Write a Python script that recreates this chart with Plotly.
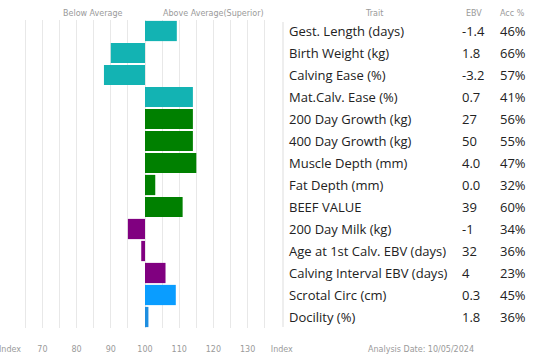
import plotly.graph_objects as go

traits = ["Gest. Length (days)", "Birth Weight (kg)", "Calving Ease (%)", "Mat.Calv. Ease (%)",
          "200 Day Growth (kg)", "400 Day Growth (kg)", "Muscle Depth (mm)", "Fat Depth (mm)",
          "BEEF VALUE", "200 Day Milk (kg)", "Age at 1st Calv. EBV (days)",
          "Calving Interval EBV (days)", "Scrotal Circ (cm)", "Docility (%)"]
index_values = [109.3, 90, 88, 114, 114, 114, 115, 103, 111, 95, 98.9, 106, 109, 101]
ebv = ["-1.4", "1.8", "-3.2", "0.7", "27", "50", "4.0", "0.0", "39", "-1", "32", "4", "0.3", "1.8"]
acc = ["46%", "66%", "57%", "41%", "56%", "55%", "47%", "32%", "60%", "34%", "36%", "23%", "45%", "36%"]
colors = ["#13b3b3"] * 4 + ["#008000"] * 5 + ["#800080"] * 3 + ["#0a9dff", "#1e8ee0"]
tick_vals = [60, 70, 80, 90, 100, 110, 120, 130, 140]
tick_text = ["", "70", "80", "90", "100", "110", "120", "130", "Index"]
axis_label = "Index"

W, H = 550, 362
L, R, T, B = 8, 282, 20, 328


def px(x):
    return (x - L) / (R - L)


def py(y):
    return (B - y) / (B - T)


fig = go.Figure(go.Bar(
    y=traits, x=[v - 100 for v in index_values], base=100, orientation="h",
    marker=dict(color=colors, line=dict(width=0)), hoverinfo="skip"))

grey = "#9a9a9a"
ann = []
for t, e, a in zip(traits, ebv, acc):
    common = dict(yref="y", y=t, xref="paper", showarrow=False, xanchor="left", yanchor="middle",
                  font=dict(family="Open Sans", size=13, color="#222"))
    ann.append(dict(x=px(287), text=t, **common))
    ann.append(dict(x=px(460), text=e, **common))
    ann.append(dict(x=px(498), text=a, **common))

hdr = dict(xref="paper", yref="paper", showarrow=False, xanchor="center", yanchor="middle",
           font=dict(family="DejaVu Sans", size=8, color=grey))
ann.append(dict(x=px(93), y=py(13), text="Below Average", **hdr))
ann.append(dict(x=px(213), y=py(13), text="Above Average(Superior)", **hdr))
ann.append(dict(x=px(374), y=py(13), text="Trait", **hdr))
ann.append(dict(x=px(474), y=py(13), text="EBV", **hdr))
ann.append(dict(x=px(512), y=py(13), text="Acc %", **hdr))
ann.append(dict(x=px(421), y=py(349), text="Analysis Date: 10/05/2024", **hdr))
ann.append(dict(x=px(10), y=py(349), text=axis_label, **hdr))

fig.update_layout(
    width=W, height=H, margin=dict(l=L, r=W - R, t=T, b=H - B, autoexpand=False),
    paper_bgcolor="white", plot_bgcolor="white", showlegend=False, bargap=0.08,
    annotations=ann,
    shapes=[dict(type="line", xref="paper", yref="paper", x0=px(283), x1=px(283),
                 y0=py(22), y1=py(327), line=dict(color="#dddddd", width=1))],
    xaxis=dict(range=[59.95, 140.05], tickvals=tick_vals, ticktext=tick_text, showgrid=True,
               gridcolor="#e8e8e8", gridwidth=1, zeroline=False, showline=False,
               ticks="", ticklabelstandoff=15, automargin=False,
               tickfont=dict(family="DejaVu Sans", size=8, color=grey),
               minor=dict(dtick=5, tick0=60, showgrid=True, gridcolor="#e8e8e8", gridwidth=1)),
    yaxis=dict(autorange="reversed", showticklabels=False, showgrid=False, zeroline=False,
               showline=False, ticks="", automargin=False),
)

fig.write_html("out.html", post_script="document.body.style.margin='0';",
               config={"displayModeBar": False})
